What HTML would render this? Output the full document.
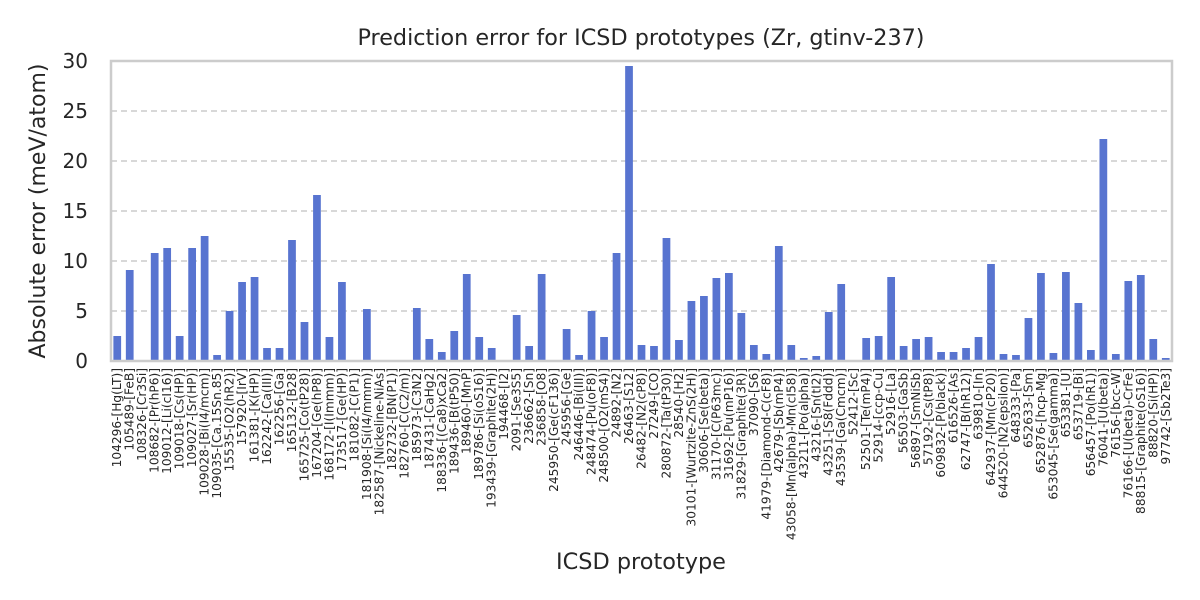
<!DOCTYPE html>
<html><head><meta charset="utf-8"><style>
body{margin:0;background:#fff;}
svg{display:block;font-family:"DejaVu Sans","Liberation Sans",sans-serif;}
</style></head><body>
<svg id="chart" width="1200" height="600">
<text x="641" y="45" text-anchor="middle" font-size="22.3" fill="#262626">Prediction error for ICSD prototypes (Zr, gtinv-237)</text>
<text transform="translate(45,211) rotate(-90)" text-anchor="middle" font-size="22" fill="#262626">Absolute error (meV/atom)</text>
<text x="641" y="569" text-anchor="middle" font-size="22.4" fill="#262626">ICSD prototype</text>
<g id="grid"></g><g id="bars"></g><g id="yticks"></g><g id="xticks"></g>
<rect x="111" y="61" width="1061" height="300" fill="none" stroke="#cccccc" stroke-width="2.5"/>
</svg>
<script>
const categories=["104296-[Hg(LT)]","105489-[FeB]","108326-[Cr3Si]","108682-[Pr(hP6)]","109012-[Li(cI16)]","109018-[Cs(HP)]","109027-[Sr(HP)]","109028-[Bi(I4/mcm)]","109035-[Ca.15Sn.85]","15535-[O2(hR2)]","157920-[IrV]","161381-[K(HP)]","162242-[Ca(III)]","162256-[Ga]","165132-[B28]","165725-[Co(tP28)]","167204-[Ge(hP8)]","168172-[I(Immm)]","173517-[Ge(HP)]","181082-[C(P1)]","181908-[Si(I4/mmm)]","182587-[Nickeline-NiAs]","182732-[BN(P1)]","182760-[C(C2/m)]","185973-[C3N2]","187431-[CaHg2]","188336-[(Ca8)xCa2]","189436-[B(tP50)]","189460-[MnP]","189786-[Si(oS16)]","193439-[Graphite(2H)]","194468-[I2]","2091-[Se3S5]","236662-[Sn]","236858-[O8]","245950-[Ge(cF136)]","245956-[Ge]","246446-[Bi(III)]","248474-[Pu(oF8)]","248500-[O2(mS4)]","24892-[N2]","26463-[S12]","26482-[N2(cP8)]","27249-[CO]","280872-[Ta(tP30)]","28540-[H2]","30101-[Wurtzite-ZnS(2H)]","30606-[Se(beta)]","31170-[C(P63mc)]","31692-[Pu(mP16)]","31829-[Graphite(3R)]","37090-[S6]","41979-[Diamond-C(cF8)]","42679-[Sb(mP4)]","43058-[Mn(alpha)-Mn(cI58)]","43211-[Po(alpha)]","43216-[Sn(tI2)]","43251-[S8(Fddd)]","43539-[Ga(Cmcm)]","52412-[Sc]","52501-[Te(mP4)]","52914-[ccp-Cu]","52916-[La]","56503-[GaSb]","56897-[SmNiSb]","57192-[Cs(tP8)]","609832-[P(black)]","616526-[As]","62747-[B(hR12)]","639810-[In]","642937-[Mn(cP20)]","644520-[N2(epsilon)]","648333-[Pa]","652633-[Sm]","652876-[hcp-Mg]","653045-[Se(gamma)]","653381-[U]","653719-[Bi]","656457-[Po(hR1)]","76041-[U(beta)]","76156-[bcc-W]","76166-[U(beta)-CrFe]","88815-[Graphite(oS16)]","88820-[Si(HP)]","97742-[Sb2Te3]"];
const values=[2.5,9.1,0.1,10.8,11.3,2.5,11.3,12.5,0.6,5.0,7.9,8.4,1.3,1.3,12.1,3.9,16.6,2.4,7.9,0,5.2,0.1,0,0.1,5.3,2.2,0.9,3.0,8.7,2.4,1.3,0.1,4.6,1.5,8.7,0,3.2,0.6,5.0,2.4,10.8,29.5,1.6,1.5,12.3,2.1,6.0,6.5,8.3,8.8,4.8,1.6,0.7,11.5,1.6,0.3,0.5,4.9,7.7,0,2.3,2.5,8.4,1.5,2.2,2.4,0.9,0.9,1.3,2.4,9.7,0.7,0.6,4.3,8.8,0.8,8.9,5.8,1.1,22.2,0.7,8.0,8.6,2.2,0.3];
const yTicks=[0,5,10,15,20,25,30];
const NS="http://www.w3.org/2000/svg";
const X0=111,X1=1172,Y0=361,Y1=61,YMAX=30;
const yScale=v=>Y0-(v/YMAX)*(Y0-Y1);
const band=(X1-X0)/categories.length;
const xCenter=i=>X0+band*(i+0.5);
const mk=(t,a,p)=>{const e=document.createElementNS(NS,t);for(const k in a)e.setAttribute(k,a[k]);p.appendChild(e);return e;};
const grid=document.getElementById('grid'),yt=document.getElementById('yticks'),bars=document.getElementById('bars'),xt=document.getElementById('xticks');
yTicks.forEach(v=>{
  const y=yScale(v);
  if(v>0&&v<YMAX){const l=mk('line',{x1:X0,x2:X1,y1:y,y2:y,stroke:'#cccccc','stroke-width':1.6,'stroke-dasharray':'6,4'},grid);
  
  }
  const t=mk('text',{x:88,y:y+7,'text-anchor':'end','font-size':20,fill:'#262626'},yt);
  t.textContent=v;
  
  
});
const bw=band*0.62;
categories.forEach((c,i)=>{
  const v=values[i],y=yScale(v);
  const r=mk('rect',{x:xCenter(i)-bw/2,y:y,width:bw,height:Y0-y,fill:'#5874d0'},bars);
  
  
  const cx=xCenter(i)+4;
  const t=mk('text',{transform:`translate(${cx},368) rotate(-90)`,'text-anchor':'end','font-size':12.2,fill:'#262626'},xt);
  t.textContent=c;
  
  
});
</script>
</body></html>
